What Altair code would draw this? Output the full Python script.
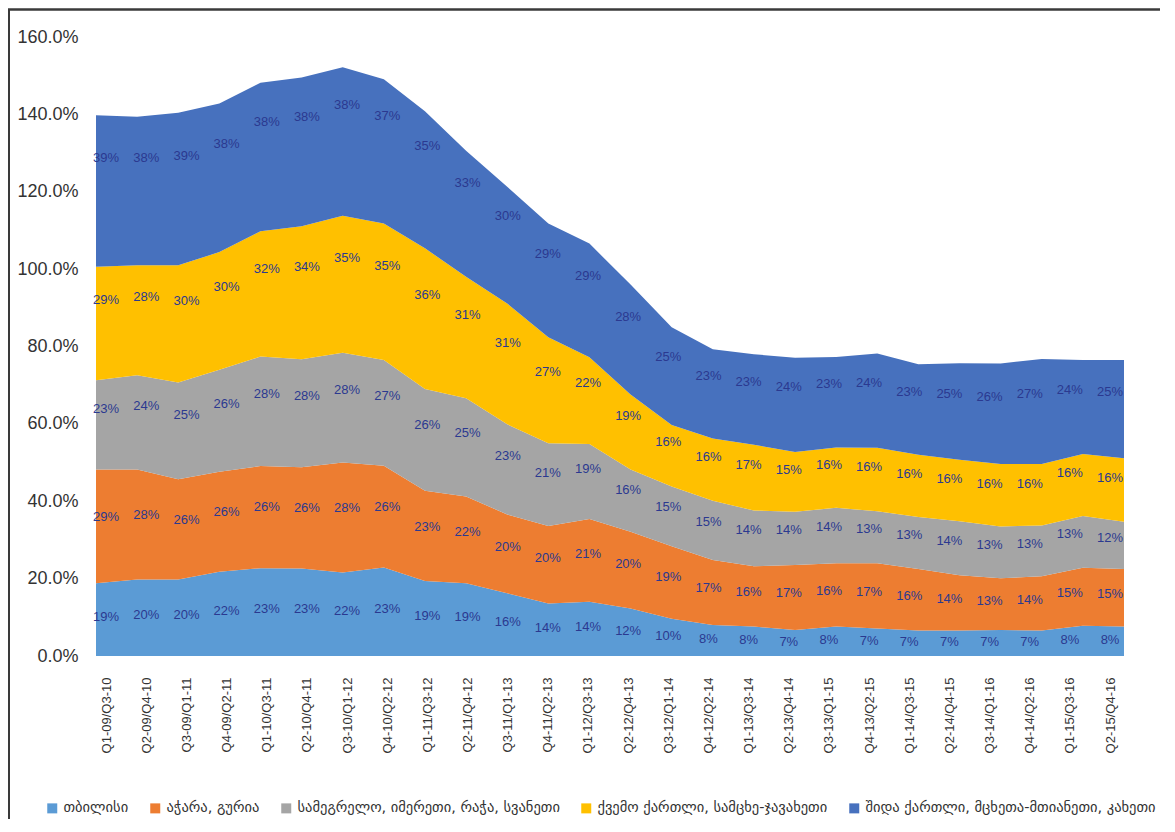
import altair as alt
import pandas as pd

periods = [
    "Q1-09/Q3-10", "Q2-09/Q4-10", "Q3-09/Q1-11", "Q4-09/Q2-11", "Q1-10/Q3-11",
    "Q2-10/Q4-11", "Q3-10/Q1-12", "Q4-10/Q2-12", "Q1-11/Q3-12", "Q2-11/Q4-12",
    "Q3-11/Q1-13", "Q4-11/Q2-13", "Q1-12/Q3-13", "Q2-12/Q4-13", "Q3-12/Q1-14",
    "Q4-12/Q2-14", "Q1-13/Q3-14", "Q2-13/Q4-14", "Q3-13/Q1-15", "Q4-13/Q2-15",
    "Q1-14/Q3-15", "Q2-14/Q4-15", "Q3-14/Q1-16", "Q4-14/Q2-16", "Q1-15/Q3-16",
    "Q2-15/Q4-16",
]

regions = [
    "თბილისი",
    "აჭარა, გურია",
    "სამეგრელო, იმერეთი, რაჭა, სვანეთი",
    "ქვემო ქართლი, სამცხე-ჯავახეთი",
    "შიდა ქართლი, მცხეთა-მთიანეთი, კახეთი",
]

# values in percent
tbilisi = [18.8, 19.8, 19.8, 21.8, 22.7, 22.6, 21.6, 22.9, 19.4, 18.8, 16.2, 13.6, 14.0,
           12.3, 9.6, 8.0, 7.6, 6.7, 7.6, 7.1, 6.6, 6.6, 6.7, 6.6, 7.8, 7.6]
adjara_guria = [29.4, 28.4, 25.9, 25.8, 26.4, 26.2, 28.4, 26.3, 23.3, 22.4, 20.4, 20.0, 21.4,
                19.8, 18.8, 16.8, 15.6, 16.8, 16.4, 16.9, 15.9, 14.3, 13.4, 14.0, 15.0, 14.9]
samegrelo_imereti = [23.1, 24.4, 25.0, 26.4, 28.3, 27.9, 28.4, 27.3, 26.3, 25.4, 23.3, 21.4, 19.4,
                     16.1, 15.4, 15.3, 14.4, 13.8, 14.3, 13.4, 13.4, 13.9, 13.4, 13.1, 13.4, 12.2]
kvemo_kartli = [29.3, 28.4, 30.3, 30.4, 32.4, 34.4, 35.4, 35.3, 36.4, 31.4, 31.2, 27.4, 22.4,
                19.4, 15.9, 16.1, 17.0, 15.4, 15.6, 16.4, 16.1, 15.9, 16.1, 15.9, 16.0, 16.4]
shida_kartli = [39.2, 38.4, 39.4, 38.4, 38.4, 38.4, 38.4, 37.3, 35.4, 32.6, 30.2, 29.4, 29.4,
                28.4, 25.3, 23.1, 23.4, 24.4, 23.4, 24.4, 23.4, 25.0, 26.0, 27.2, 24.3, 25.4]

colors = ["#5B9BD5", "#ED7D31", "#A5A5A5", "#FFC000", "#4771BE"]
y_ticks = [0, 20, 40, 60, 80, 100, 120, 140, 160]

series = [tbilisi, adjara_guria, samegrelo_imereti, kvemo_kartli, shida_kartli]
rows = []
for k, (name, vals) in enumerate(zip(regions, series)):
    for p, v in zip(periods, vals):
        rows.append({"period": p, "region": name, "k": k, "value": v})
df = pd.DataFrame(rows)

yscale = alt.Scale(domain=[0, 160], nice=False, zero=True)
yaxis = alt.Axis(values=y_ticks, title=None, grid=False, ticks=False,
                 domain=False, labelFontSize=18, labelColor="#333333",
                 labelFont="Liberation Sans", labelPadding=18,
                 labelExpr="format(datum.value, '.1f') + '%'")

area = alt.Chart(df).mark_area(opacity=1).encode(
    x=alt.X("period:N", sort=periods,
            scale=alt.Scale(type="point", padding=0), axis=None),
    y=alt.Y("value:Q", stack="zero", scale=yscale, axis=yaxis),
    color=alt.Color("region:N", sort=regions,
                    scale=alt.Scale(domain=regions, range=colors),
                    legend=alt.Legend(orient="none", legendX=-51, legendY=764,
                                      direction="horizontal", columns=5, title=None,
                                      symbolType="square", symbolSize=100,
                                      symbolStrokeWidth=0, labelFontSize=14.5,
                                      labelFont="DejaVu Sans", labelColor="#333333",
                                      labelLimit=500, columnPadding=19,
                                      labelOffset=4)),
    order=alt.Order("k:Q", sort="ascending"),
)

labels = alt.Chart(df).transform_stack(
    stack="value", groupby=["period"], as_=["y0", "y1"],
    sort=[alt.SortField("k", order="ascending")],
).transform_calculate(
    ymid="(datum.y0 + datum.y1) / 2 * 1.07",
    lbl="format(datum.value / 100, '.0%')",
).mark_text(fontSize=13, font="Liberation Sans", color="#2B3990", baseline="middle").encode(
    x=alt.X("period:N", sort=periods,
            scale=alt.Scale(type="point", padding=0.3, align=0.42),
            axis=alt.Axis(title=None, labelAngle=-90, ticks=False, domain=False,
                          grid=False, labelFontSize=13, labelFont="Liberation Sans",
                          labelColor="#333333", labelPadding=21)),
    y=alt.Y("ymid:Q", scale=yscale, axis=yaxis),
    text="lbl:N",
)

frame_data = pd.DataFrame({"f": [0]})
frame_v = alt.Chart(frame_data).mark_rule(color="#3a3a3a", strokeWidth=2).encode(
    x=alt.value(-87), y=alt.value(-28), y2=alt.value(800))
frame_h = alt.Chart(frame_data).mark_rule(color="#3a3a3a", strokeWidth=2.5).encode(
    x=alt.value(-88), x2=alt.value(1070), y=alt.value(-27.5))

chart = alt.layer(area, labels, frame_v, frame_h).resolve_scale(
    x="independent"
).properties(
    width=1028, height=619,
    autosize=alt.AutoSizeParams(type="none"),
    padding={"left": 88, "top": 29, "right": 36, "bottom": 163},
    background="white",
).configure_view(stroke=None)

chart.save("out.html", embed_options={"renderer": "svg", "actions": False})
